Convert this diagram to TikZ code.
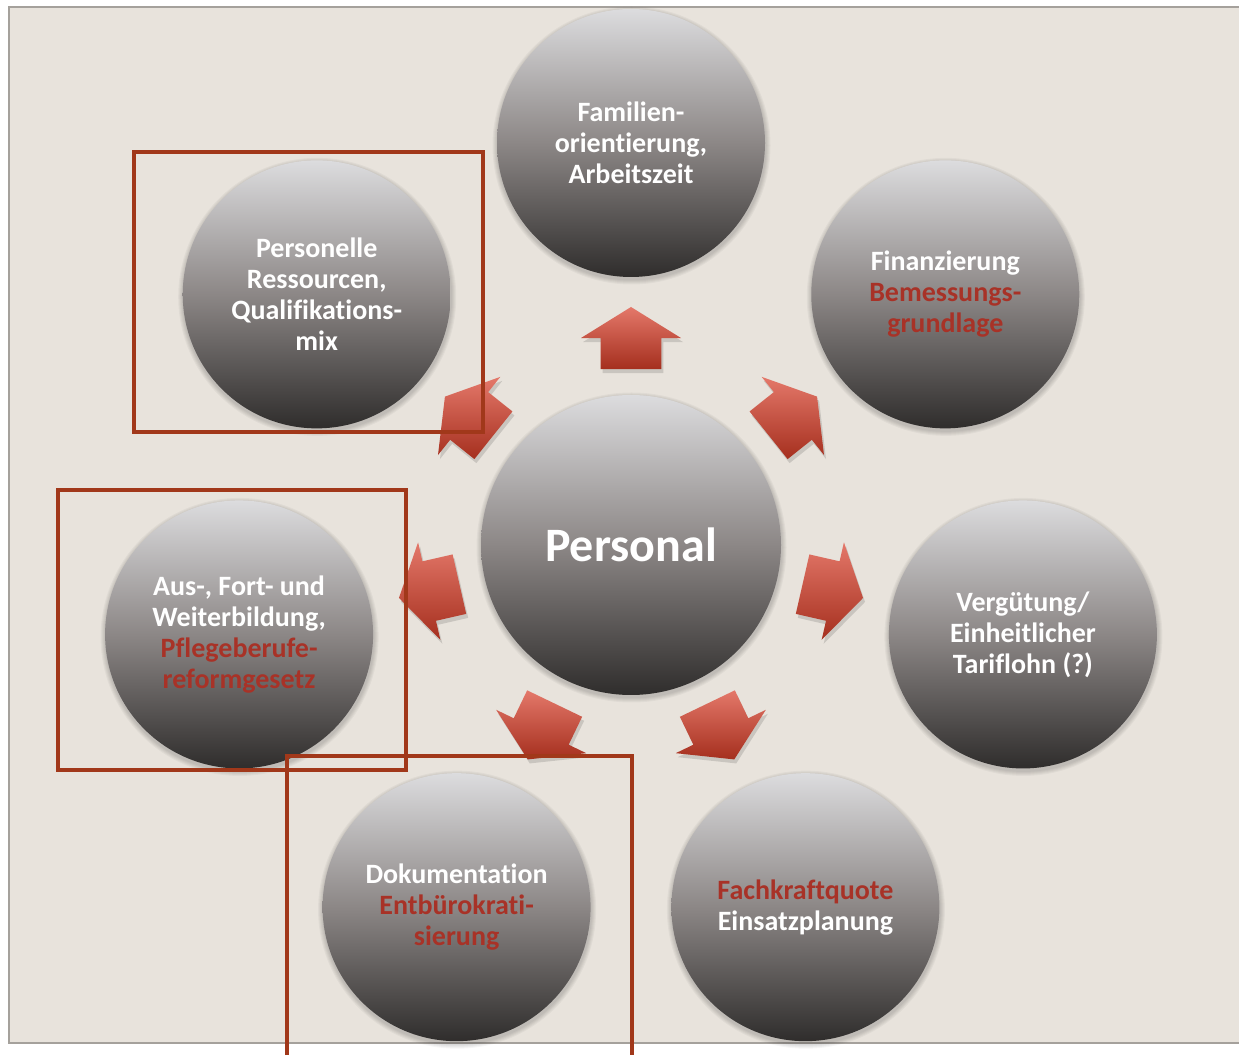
\documentclass[tikz,border=0pt]{standalone}
\usepackage{fontspec}
\setmainfont{Carlito}[Ligatures={NoCommon}]
\usetikzlibrary{calc}

\definecolor{panel}{HTML}{E8E3DC}
\definecolor{panelline}{HTML}{A5A19C}
\definecolor{frame}{HTML}{A1381A}
\definecolor{accent}{HTML}{A83227}
\definecolor{ballTop}{HTML}{DCDCDE}
\definecolor{ballMid}{HTML}{8C8786}
\definecolor{ballBot}{HTML}{2F2D2C}
\definecolor{arrTop}{HTML}{E4786A}
\definecolor{arrBot}{HTML}{A52F1E}

\begin{document}
\begin{tikzpicture}[x=1pt,y=1pt,
  ball/.style={circle, minimum size=268pt, inner sep=0pt,
    top color=ballTop, bottom color=ballBot, middle color=ballMid,
    text=white, align=center,
    font=\bfseries\fontsize{28}{31}\selectfont},
  hub/.style={ball, minimum size=300pt,
    font=\bfseries\fontsize{48}{54}\selectfont},
  marker/.style={draw=frame, line width=4pt, line join=miter}]

\useasboundingbox (0,0) rectangle (1239,1055);

% background panel
\fill[panel] (9,12) rectangle (1239,1048);
\draw[panelline, line width=2.5pt] (1239,1048) -- (9,1048) -- (9,12) -- (1239,12);

% positions: hub and seven satellites on a ring
\coordinate (c0) at (631,510);
\coordinate (c1) at ($(c0)+(90:402)$);
\coordinate (c2) at ($(c0)+(38.571:402)$);
\coordinate (c3) at ($(c0)+(-12.857:402)$);
\coordinate (c4) at ($(c0)+(-64.286:402)$);
\coordinate (c5) at ($(c0)+(-115.714:402)$);
\coordinate (c6) at ($(c0)+(-167.143:402)$);
\coordinate (c7) at ($(c0)+(141.429:402)$);

% soft shadows under the balls
\foreach \p/\r in {c0/150,c1/134,c2/134,c3/134,c4/134,c5/134,c6/134,c7/134}{
  \foreach \k in {1,2,3,4,5}{
    \fill[black, opacity=0.035] ($(\p)+(0.5,-2.5)$) circle ({\r+\k});
  }
}

% balls
\node[hub]  (hub)  at (c0) {Personal};
\node[ball] (fam)  at (c1) {Familien-\\orientierung,\\Arbeitszeit};
\node[ball] (fin)  at (c2) {Finanzierung\\\textcolor{accent}{Bemessungs-}\\\textcolor{accent}{grundlage}};
\node[ball] (verg) at (c3) {Vergütung/\\Einheitlicher\\Tariflohn (?)};
\node[ball] (fach) at (c4) {\textcolor{accent}{Fachkraftquote}\\Einsatzplanung};
\node[ball] (doku) at (c5) {Dokumentation\\\textcolor{accent}{Entbürokrati-}\\\textcolor{accent}{sierung}};
\node[ball] (aus)  at (c6) {Aus-, Fort- und\\Weiterbildung,\\\textcolor{accent}{Pflegeberufe-}\\\textcolor{accent}{reformgesetz}};
\node[ball] (pers) at (c7) {Personelle\\Ressourcen,\\Qualifikations-\\mix};

% block arrows pointing from the hub to each ball
\foreach \a in {90,38.571,-12.857,-64.286,-115.714,-167.143,141.429}{
  \fill[black, opacity=0.13, shift={($(hub.center)+(2,-4)$)}]
    (\a:238) -- ({\a+13.58}:212.95) -- ({\a+8.38}:209.23) -- ({\a+9.83}:178.62)
    -- ({\a-9.83}:178.62) -- ({\a-8.38}:209.23) -- ({\a-13.58}:212.95) -- cycle;
  \shade[top color=arrTop, bottom color=arrBot, shift={(hub.center)}]
    (\a:238) -- ({\a+13.58}:212.95) -- ({\a+8.38}:209.23) -- ({\a+9.83}:178.62)
    -- ({\a-9.83}:178.62) -- ({\a-8.38}:209.23) -- ({\a-13.58}:212.95) -- cycle;
}

% highlight frames
\draw[marker] (134,622.5) rectangle (482.5,902.5);
\draw[marker] (58,284.5) rectangle (405.5,565);
\draw[marker] (287,0) -- (287,298.5) -- (632,298.5) -- (632,0);

\end{tikzpicture}
\end{document}
